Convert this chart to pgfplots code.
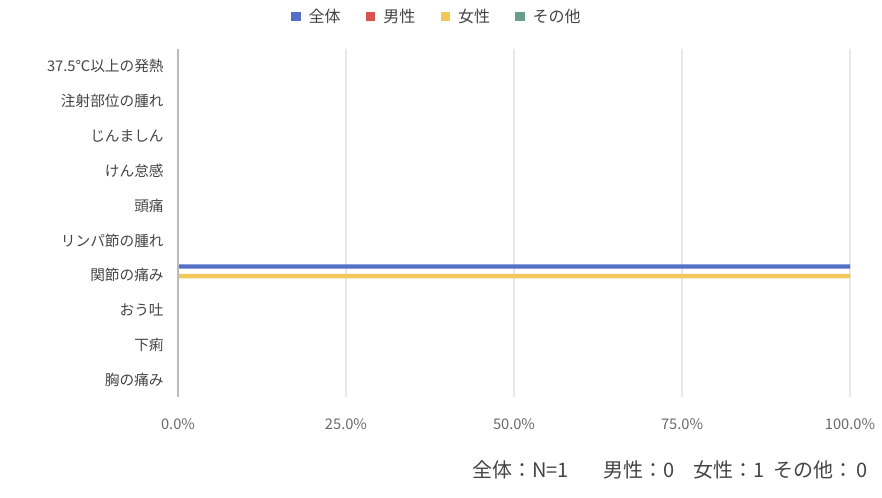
\documentclass[border=0pt]{standalone}
\usepackage{fontspec}
\setmainfont{Noto Sans CJK JP}
\usepackage{pgfplots}
\usepackage{pgfplotstable}
\pgfplotsset{compat=1.18}

\definecolor{cAll}{HTML}{5470C6}
\definecolor{cMale}{HTML}{D9534F}
\definecolor{cFemale}{HTML}{F2C85B}
\definecolor{cOther}{HTML}{6A9E88}
\definecolor{gridc}{HTML}{E8E8E8}
\definecolor{axisc}{HTML}{BBBBBB}
\definecolor{txt}{HTML}{444444}

% idx: 0 = top category
\pgfplotstableread{
idx all male female other
0 0   0 0   0
1 0   0 0   0
2 0   0 0   0
3 0   0 0   0
4 0   0 0   0
5 0   0 0   0
6 100 0 100 0
7 0   0 0   0
8 0   0 0   0
9 0   0 0   0
}\sidefx

\begin{document}
\begin{tikzpicture}
\useasboundingbox (0,0) rectangle (661.5pt,372.75pt);
\begin{axis}[
    at={(133.5pt,74.7pt)}, anchor=south west,
    scale only axis,
    width=504pt, height=261.6pt,
    xbar, bar width=3.2pt,
    xmin=0, xmax=100,
    ymin=-0.5, ymax=9.5,
    y dir=reverse,
    axis line style={draw=none},
    xtick={0,25,50,75,100},
    xticklabels={0.0\%,25.0\%,50.0\%,75.0\%,100.0\%},
    ytick={0,...,9},
    yticklabels={37.5℃以上の発熱,注射部位の腫れ,じんましん,けん怠感,頭痛,リンパ節の腫れ,関節の痛み,おう吐,下痢,胸の痛み},
    tick style={draw=none},
    xmajorgrids, major grid style={gridc, line width=0.8pt},
    xticklabel style={font=\fontsize{11}{12}\selectfont, text=txt!80, yshift=-12pt},
    yticklabel style={font=\fontsize{11}{12}\selectfont, text=txt, xshift=-3pt},
    legend columns=-1,
    legend style={at={(axis description cs:0.386,1.09)}, anchor=center, draw=none, fill=none,
        font=\fontsize{12}{13}\selectfont, text=txt,
        /tikz/every odd column/.append style={column sep=4pt},
        /tikz/every even column/.append style={column sep=17pt}},
    legend image code/.code={\fill[#1] (0pt,-3.2pt) rectangle (7pt,3.8pt);},
    clip=false,
]
\addplot[draw=none, fill=cAll, bar shift=6.6pt] table[x=all, y=idx] {\sidefx};
\addlegendentry{全体}
\addplot[draw=none, fill=cMale, bar shift=3pt] table[x=male, y=idx] {\sidefx};
\addlegendentry{男性}
\addplot[draw=none, fill=cFemale, bar shift=-0.6pt] table[x=female, y=idx] {\sidefx};
\addlegendentry{女性}
\addplot[draw=none, fill=cOther, bar shift=-4.2pt] table[x=other, y=idx] {\sidefx};
\addlegendentry{その他}
\draw[axisc, line width=0.8pt] (rel axis cs:0,0) -- (rel axis cs:0,1);
\end{axis}
\begin{scope}[every node/.style={anchor=west, font=\fontsize{15}{16}\selectfont, text=txt, inner sep=0pt}]
\node at (354pt,20.25pt) {全体：N=1};
\node at (452.25pt,20.25pt) {男性：0};
\node at (519.75pt,20.25pt) {女性：1};
\node at (579.75pt,20.25pt) {その他：\,0};
\end{scope}
\end{tikzpicture}
\end{document}
